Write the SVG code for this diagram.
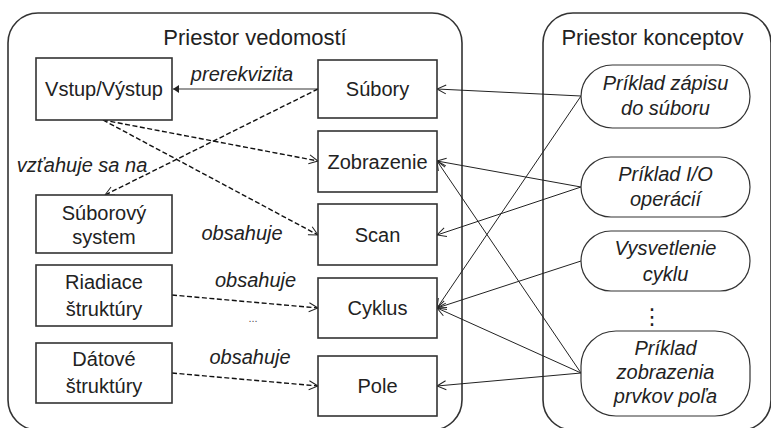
<svg xmlns="http://www.w3.org/2000/svg" width="771" height="428" viewBox="0 0 771 428">
<style>
.cont{fill:none;stroke:#333;stroke-width:1.6}
.box{fill:#fff;stroke:#333;stroke-width:1.6}
.ell{fill:#fff;stroke:#333;stroke-width:1.2}
text{font-family:"Liberation Sans",Arial,sans-serif;font-size:20px;fill:#222;text-anchor:middle}
.title{font-size:22px}
.it{font-style:italic}
.dash{fill:none;stroke:#111;stroke-width:1.4;stroke-dasharray:5 2.5;marker-end:url(#open)}
.sol{fill:none;stroke:#222;stroke-width:1;marker-end:url(#open)}
.pre{fill:none;stroke:#777;stroke-width:1.5;marker-end:url(#filled)}
</style>
<defs>
<marker id="open" viewBox="-10 -6 12 12" refX="0" refY="0" markerWidth="12" markerHeight="12" markerUnits="userSpaceOnUse" orient="auto">
<path d="M-9,-4.5 L0,0 L-9,4.5" fill="none" stroke="#222" stroke-width="1"/>
</marker>
<marker id="filled" viewBox="-8 -5 10 10" refX="0" refY="0" markerWidth="10" markerHeight="10" markerUnits="userSpaceOnUse" orient="auto">
<path d="M-6,-4 L0,0 L-6,4 Z" fill="#222"/>
</marker>
</defs>

<g id="priestor-vedomosti">
<rect class="cont" x="8" y="13" width="454" height="417" rx="30"/>
<text class="title" x="255" y="45">Priestor vedomostí</text>
</g>
<g id="priestor-konceptov">
<rect class="cont" x="543" y="13" width="228" height="417" rx="30"/>
<text class="title" x="652.5" y="45">Priestor konceptov</text>
</g>

<g id="connectors">
<line class="pre" x1="318" y1="89" x2="173" y2="89"/>
<line class="dash" x1="318" y1="89" x2="105" y2="195"/>
<line class="dash" x1="103" y1="120" x2="318" y2="161"/>
<line class="dash" x1="103" y1="120" x2="318" y2="235"/>
<line class="dash" x1="172" y1="295" x2="318" y2="308"/>
<line class="dash" x1="172" y1="373" x2="318" y2="386"/>
<line class="sol" x1="581" y1="96" x2="437" y2="89"/>
<line class="sol" x1="581" y1="96" x2="437" y2="308"/>
<line class="sol" x1="581" y1="187" x2="437" y2="161"/>
<line class="sol" x1="581" y1="187" x2="437" y2="235"/>
<line class="sol" x1="581" y1="261" x2="437" y2="308"/>
<line class="sol" x1="581" y1="373" x2="437" y2="308"/>
<line class="sol" x1="581" y1="373" x2="437" y2="161"/>
<line class="sol" x1="581" y1="373" x2="437" y2="386"/>
<text class="it" x="242" y="81">prerekvizita</text>
<text class="it" x="82" y="172">vzťahuje sa na</text>
<text class="it" x="242" y="240">obsahuje</text>
<text class="it" x="255.5" y="287">obsahuje</text>
<text x="253" y="322" style="font-size:11px;fill:#555">...</text>
<text class="it" x="250" y="364">obsahuje</text>
</g>

<g id="vstup-vystup">
<rect class="box" x="36" y="58" width="136" height="62"/>
<text x="104" y="96">Vstup/Výstup</text>
</g>
<g id="suborovy-system">
<rect class="box" x="36" y="195" width="136" height="58"/>
<text x="104" y="220">Súborový</text>
<text x="104" y="244">system</text>
</g>
<g id="riadiace-struktury">
<rect class="box" x="36" y="265" width="136" height="61"/>
<text x="104" y="289">Riadiace</text>
<text x="104" y="316">štruktúry</text>
</g>
<g id="datove-struktury">
<rect class="box" x="36" y="343" width="136" height="60"/>
<text x="104" y="366">Dátové</text>
<text x="104" y="393">štruktúry</text>
</g>

<g id="subory">
<rect class="box" x="318" y="60" width="119" height="58"/>
<text x="377.5" y="96">Súbory</text>
</g>
<g id="zobrazenie">
<rect class="box" x="318" y="131" width="119" height="61"/>
<text x="377.5" y="169">Zobrazenie</text>
</g>
<g id="scan">
<rect class="box" x="318" y="204" width="119" height="61"/>
<text x="377.5" y="242">Scan</text>
</g>
<g id="cyklus">
<rect class="box" x="318" y="278" width="119" height="60"/>
<text x="377.5" y="315">Cyklus</text>
</g>
<g id="pole">
<rect class="box" x="318" y="356" width="119" height="60"/>
<text x="377.5" y="393">Pole</text>
</g>

<g id="priklad-zapisu">
<rect class="ell" x="581" y="65" width="169" height="63" rx="31.5"/>
<text class="it" x="665.5" y="90">Príklad zápisu</text>
<text class="it" x="665.5" y="115">do súboru</text>
</g>
<g id="priklad-io">
<rect class="ell" x="581" y="157" width="169" height="60" rx="30"/>
<text class="it" x="665.5" y="181">Príklad I/O</text>
<text class="it" x="665.5" y="206">operácií</text>
</g>
<g id="vysvetlenie-cyklu">
<rect class="ell" x="581" y="231" width="169" height="60" rx="30"/>
<text class="it" x="665.5" y="255">Vysvetlenie</text>
<text class="it" x="665.5" y="281">cyklu</text>
</g>
<text x="652" y="324" style="font-family:'DejaVu Sans',sans-serif;font-size:22px">⋮</text>
<g id="priklad-zobrazenia">
<rect class="ell" x="581" y="331" width="169" height="85" rx="35"/>
<text class="it" x="665.5" y="355">Príklad</text>
<text class="it" x="665.5" y="379">zobrazenia</text>
<text class="it" x="665.5" y="403">prvkov poľa</text>
</g>
</svg>
